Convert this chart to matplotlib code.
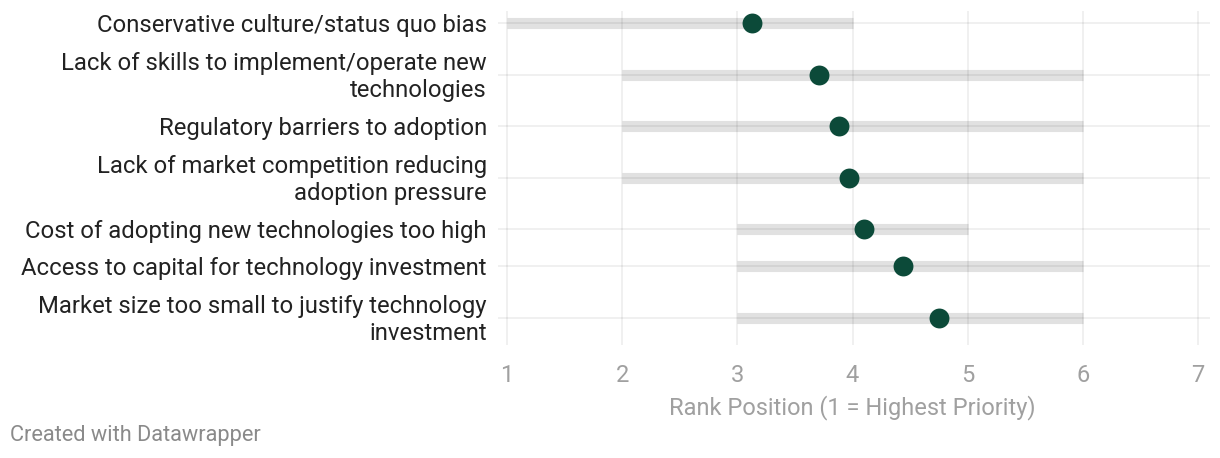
import matplotlib.pyplot as plt

plt.rcParams['font.family'] = ['Roboto', 'DejaVu Sans']

labels = [
    'Conservative culture/status quo bias',
    'Lack of skills to implement/operate new\ntechnologies',
    'Regulatory barriers to adoption',
    'Lack of market competition reducing\nadoption pressure',
    'Cost of adopting new technologies too high',
    'Access to capital for technology investment',
    'Market size too small to justify technology\ninvestment',
]
range_min = [1, 2, 2, 2, 3, 3, 3]
range_max = [4, 6, 6, 6, 5, 6, 6]
mean_rank = [3.13, 3.71, 3.88, 3.97, 4.10, 4.44, 4.75]
x_ticks = [1, 2, 3, 4, 5, 6, 7]

# row heights in pixels depend on how many lines the label takes
single_h, double_h = 37, 66
heights = [double_h if '\n' in s else single_h for s in labels]
ypos = []
top = 0
for h in heights:
    ypos.append(top + h / 2)
    top += h
total_h = top

W, H = 1220, 458
fig = plt.figure(figsize=(W / 100, H / 100), dpi=100)
ax_left, ax_right = 498, 1210
ax_top = 4.5
ax = fig.add_axes([ax_left / W, 1 - (ax_top + total_h) / H,
                   (ax_right - ax_left) / W, total_h / H])

x0, x1 = 1 - 9 / 115.2, 7 + 12 / 115.2
ax.set_xlim(x0, x1)
ax.set_ylim(total_h, 0)

# range bars
ax.hlines(ypos, range_min, range_max, color='#e1e1e1', linewidth=8, zorder=1)

# grid on top with transparency so it darkens over the bars
ax.hlines(ypos, x0, x1, color='black', alpha=0.08, linewidth=1.1, zorder=2)
ax.vlines(x_ticks, 6, total_h - 6, color='black', alpha=0.08, linewidth=1.1, zorder=2)

# mean dots
ax.scatter(mean_rank, ypos, s=205, color='#0c4a39', zorder=3, linewidths=0)

# category labels (y in data/pixel units, x in axes fraction)
ax.set_yticks([])
for y, lab in zip(ypos, labels):
    ax.text(-11 / (ax_right - ax_left), y + 2.5, lab,
            transform=ax.get_yaxis_transform(),
            ha='right', va='center', fontsize=17.2, color='#222222',
            linespacing=1.27, clip_on=False)

ax.set_xticks(x_ticks)
ax.set_xticklabels([str(v) for v in x_ticks], fontsize=17, color='#a0a0a0')
ax.tick_params(axis='x', length=0, pad=10)

for sp in ax.spines.values():
    sp.set_visible(False)

fig.text(852 / W, 1 - 408 / H, 'Rank Position (1 = Highest Priority)',
         ha='center', va='center', fontsize=17, color='#a0a0a0')
fig.text(10 / W, 1 - 435 / H, 'Created with Datawrapper',
         ha='left', va='center', fontsize=15.7, color='#8a8a8a')

fig.savefig('out.png', dpi=100)
